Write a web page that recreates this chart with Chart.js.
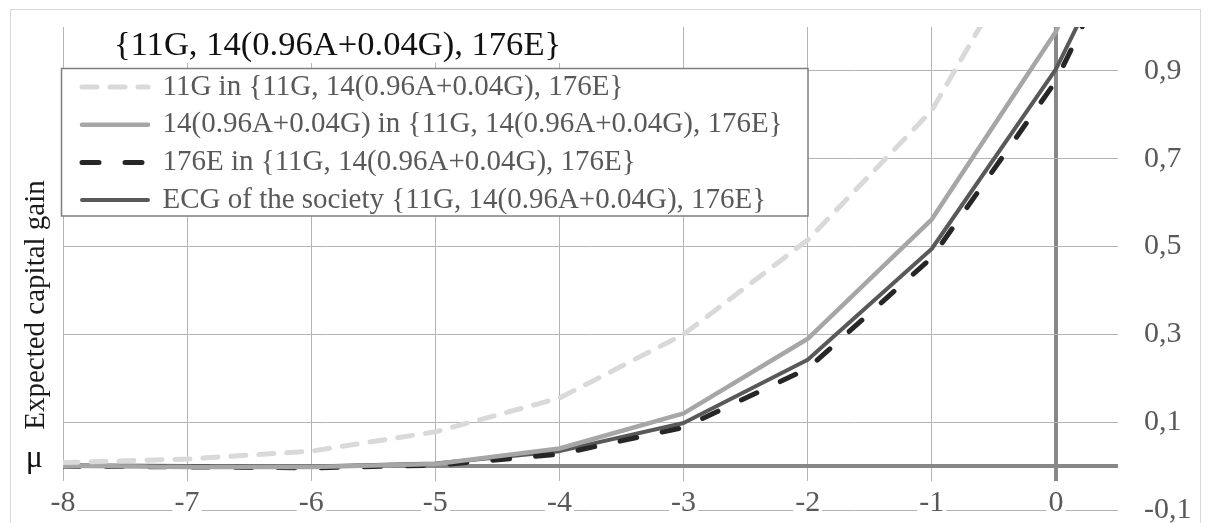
<!DOCTYPE html>
<html><head><meta charset="utf-8">
<script src="https://cdn.jsdelivr.net/npm/chart.js@4.4.1/dist/chart.umd.min.js"></script>
<style>html,body{margin:0;padding:0;background:#fff;}canvas{display:block;}</style>
</head><body>
<canvas id="c" width="1208" height="523"></canvas>
<script>
const xValues = [-8, -7, -6, -5, -4, -3, -2, -1, 0, 1];
const g11  = [0.008, 0.016, 0.034, 0.078, 0.155, 0.300, 0.515, 0.810, 1.300, 2.000];
const a14  = [0.001, -0.002, -0.002, 0.005, 0.040, 0.120, 0.290, 0.562, 0.990, 1.600];
const e176 = [0.000, -0.002, -0.004, 0.002, 0.027, 0.088, 0.222, 0.475, 0.877, 1.460];
const ecg  = [0.002, 0.000, -0.001, 0.006, 0.034, 0.098, 0.242, 0.495, 0.904, 1.480];
const seriesNames = [
  '11G in {11G, 14(0.96A+0.04G), 176E}',
  '14(0.96A+0.04G) in {11G, 14(0.96A+0.04G), 176E}',
  '176E in {11G, 14(0.96A+0.04G), 176E}',
  'ECG of the society {11G, 14(0.96A+0.04G), 176E}'
];
const xTicks = [-8, -7, -6, -5, -4, -3, -2, -1, 0];
const xTickLabels = ['-8', '-7', '-6', '-5', '-4', '-3', '-2', '-1', '0'];
const yTicks = [-0.1, 0, 0.1, 0.3, 0.5, 0.7, 0.9];
const yTickLabels = ['-0,1', '', '0,1', '0,3', '0,5', '0,7', '0,9'];
const muTicks = [0];
const muLabels = ['μ'];
const chartTitle = '{11G, 14(0.96A+0.04G), 176E}';
const yAxisTitle = 'Expected capital gain';

const SERIF = "'Liberation Serif', 'Times New Roman', serif";
const pts = arr => xValues.map((x, i) => ({x: x, y: arr[i]}));

const decor = {
  id: 'decor',
  beforeDraw(chart) {
    const ctx = chart.ctx;
    ctx.save();
    ctx.fillStyle = '#fff';
    ctx.fillRect(0, 0, chart.width, chart.height);
    ctx.strokeStyle = '#d9d9d9';
    ctx.lineWidth = 1;
    ctx.strokeRect(10.5, 9.5, 1190, 540);
    ctx.restore();
  },
  afterLayout(chart) {
    const lg = chart.legend;
    if (!lg) return;
    lg.left = 73.3; lg.top = 63.8;
    lg.right = lg.left + 760; lg.bottom = lg.top + 460;
  },
  beforeDatasetsDraw(chart) {
    const ctx = chart.ctx;
    ctx.save();
    ctx.fillStyle = '#fff';
    ctx.fillRect(100, 27, 475, 36);
    ctx.fillStyle = '#111';
    ctx.font = '34.6px ' + SERIF;
    ctx.textAlign = 'left';
    ctx.textBaseline = 'alphabetic';
    ctx.fillText(chartTitle, 114, 55);
    ctx.fillStyle = '#fff';
    ctx.fillRect(61, 68, 747, 148);
    ctx.strokeStyle = '#7f7f7f';
    ctx.lineWidth = 1.5;
    ctx.strokeRect(61.5, 68.5, 746.5, 147.5);
    ctx.translate(44, 305);
    ctx.rotate(-Math.PI / 2);
    ctx.fillStyle = '#1a1a1a';
    ctx.font = '29px ' + SERIF;
    ctx.textAlign = 'center';
    ctx.textBaseline = 'alphabetic';
    ctx.fillText(yAxisTitle, 0, 0);
    ctx.restore();
    if (chart.legend) chart.legend.draw();
  }
};

const common = {fill: false, pointRadius: 0, tension: 0, clip: 0, xAxisID: 'x', yAxisID: 'y', borderJoinStyle: 'round'};

new Chart(document.getElementById('c'), {
  type: 'line',
  data: {
    datasets: [
      Object.assign({}, common, {label: seriesNames[0], data: pts(g11), borderColor: '#d9d9d9', backgroundColor: '#d9d9d9', borderWidth: 5, borderDash: [15, 13], borderCapStyle: 'round'}),
      Object.assign({}, common, {label: seriesNames[1], data: pts(a14), borderColor: '#a6a6a6', backgroundColor: '#a6a6a6', borderWidth: 4.5, borderCapStyle: 'round'}),
      Object.assign({}, common, {label: seriesNames[2], data: pts(e176), borderColor: '#262626', backgroundColor: '#262626', borderWidth: 5, borderDash: [17, 26], borderCapStyle: 'round'}),
      Object.assign({}, common, {label: seriesNames[3], data: pts(ecg), borderColor: '#595959', backgroundColor: '#595959', borderWidth: 4, borderCapStyle: 'round'})
    ]
  },
  options: {
    responsive: false,
    animation: false,
    devicePixelRatio: 1,
    layout: {padding: {top: 27, left: 0, right: 0, bottom: 13}},
    plugins: {
      title: {display: false},
      tooltip: {enabled: false},
      legend: {
        position: 'chartArea',
        align: 'start',
        labels: {
          usePointStyle: true,
          pointStyle: 'line',
          pointStyleWidth: 66,
          boxWidth: 66,
          padding: 8.7,
          color: '#595959',
          textAlign: 'left',
          font: {family: SERIF, size: 29},
          generateLabels: chart => {
            const items = Chart.defaults.plugins.legend.labels.generateLabels(chart);
            items.forEach(it => {
              const ds = chart.data.datasets[it.datasetIndex];
              it.lineDash = ds.borderDash || [];
              it.lineCap = ds.borderCapStyle || 'butt';
              it.lineWidth = ds.borderWidth;
              it.strokeStyle = ds.borderColor;
              it.pointStyle = 'line';
            });
            return items;
          }
        }
      }
    },
    scales: {
      x: {
        type: 'linear', axis: 'x', position: {y: -0.1}, min: -8, max: 0.5,
        afterBuildTicks: s => { s.ticks = xTicks.map(v => ({value: v})); },
        afterFit: s => { s.height = 0; s.paddingLeft = 0; s.paddingRight = 0; s.paddingTop = 0; s.paddingBottom = 0; },
        grid: {
          drawTicks: false,
          color: c => (c.tick && c.tick.value === 0) ? '#878787' : '#b4b4b4',
          lineWidth: c => (c.tick && c.tick.value === 0) ? 4 : 1
        },
        border: {display: false},
        ticks: {
          autoSkip: false, maxRotation: 0, minRotation: 0, padding: -25,
          color: '#595959', font: {family: SERIF, size: 30},
          showLabelBackdrop: true, backdropColor: '#ffffff',
          backdropPadding: {top: 4, bottom: 4, left: 2, right: 2},
          z: 1,
          callback: (v, i) => xTickLabels[i]
        }
      },
      y: {
        type: 'linear', axis: 'y', position: 'right', min: -0.1, max: 1.0,
        afterBuildTicks: s => { s.ticks = yTicks.map(v => ({value: v})); },
        afterFit: s => { s.width = 90; s.paddingTop = 0; s.paddingBottom = 0; },
        grid: {
          drawTicks: false,
          color: c => (c.tick && c.tick.value === 0) ? '#878787' : '#b4b4b4',
          lineWidth: c => (c.tick && c.tick.value === 0) ? 4 : 1
        },
        border: {display: false},
        ticks: {
          autoSkip: false, padding: 26, color: '#595959',
          font: {family: SERIF, size: 30},
          callback: (v, i) => yTickLabels[i]
        }
      },
      yL: {
        type: 'linear', axis: 'y', position: 'left', min: -0.1, max: 1.0,
        afterBuildTicks: s => { s.ticks = muTicks.map(v => ({value: v})); },
        afterFit: s => { s.width = 63; s.paddingTop = 0; s.paddingBottom = 0; },
        grid: {display: false, drawTicks: false},
        border: {display: false},
        ticks: {
          autoSkip: false, padding: 20, labelOffset: -7, color: '#111',
          font: {family: SERIF, size: 32},
          callback: (v, i) => muLabels[i]
        }
      }
    }
  },
  plugins: [decor]
});
</script>
</body></html>
